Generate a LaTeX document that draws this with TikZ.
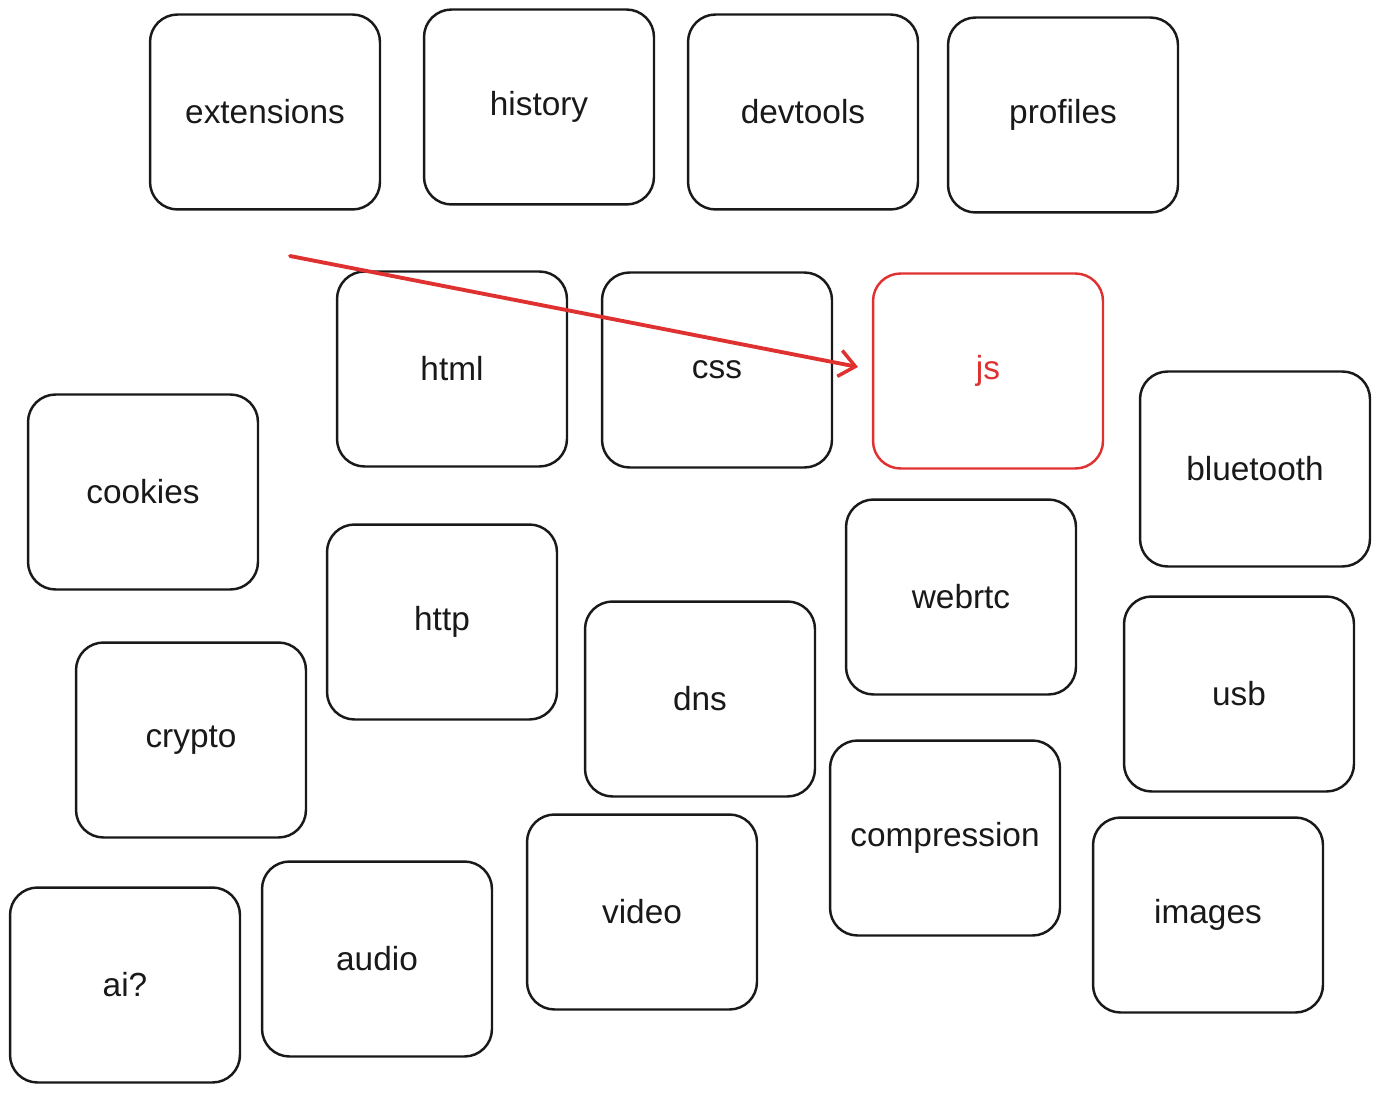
\documentclass[tikz,border=0pt]{standalone}
\usepackage{fontspec}
\setmainfont{Liberation Sans}
\usetikzlibrary{arrows.meta}
\definecolor{exred}{RGB}{224,49,49}
\begin{document}
\begin{tikzpicture}[x=0.02cm,y=-0.02cm,>={Straight Barb[length=9pt,width=15pt,line width=2pt]},line join=round,line cap=round]
	\tikzset{card/.style={draw=black!90,line width=1.4pt,rounded corners=0.55cm,minimum width=4.6cm,minimum height=3.9cm,font=\fontsize{19}{21}\selectfont,text=black!90}}
	\tikzset{hot/.style={card,draw=exred,text=exred}}
	%%Khung hình
	\useasboundingbox (0,0) rectangle (1381,1094);
	%%Hàng trên
	\node[card] (ext) at (265,112) {extensions};
	\node[card] (hist) at (539,107) {history};
	\node[card] (dev) at (803,112) {devtools};
	\node[card] (prof) at (1063,115) {profiles};
	%%Hàng giữa
	\node[card] (html) at (452,369) {html};
	\node[card] (css) at (717,370) {css};
	\node[hot] (js) at (988,371) {js};
	\node[card] (bt) at (1255,469) {bluetooth};
	\node[card] (cook) at (143,492) {cookies};
	\node[card] (http) at (442,622) {http};
	\node[card] (web) at (961,597) {webrtc};
	\node[card] (dns) at (700,699) {dns};
	\node[card] (usb) at (1239,694) {usb};
	\node[card] (cry) at (191,740) {crypto};
	%%Hàng dưới
	\node[card] (comp) at (945,838) {compression};
	\node[card] (img) at (1208,915) {images};
	\node[card] (ai) at (125,985) {ai?};
	\node[card] (aud) at (377,959) {audio};
	\node[card] (vid) at (642,912) {video};
	%%Mũi tên
	\coordinate (arrS) at (290,256);
	\coordinate (arrE) at (858,367);
	\draw[->,exred,line width=2.2pt] (arrS) -- (arrE);
\end{tikzpicture}
\end{document}
